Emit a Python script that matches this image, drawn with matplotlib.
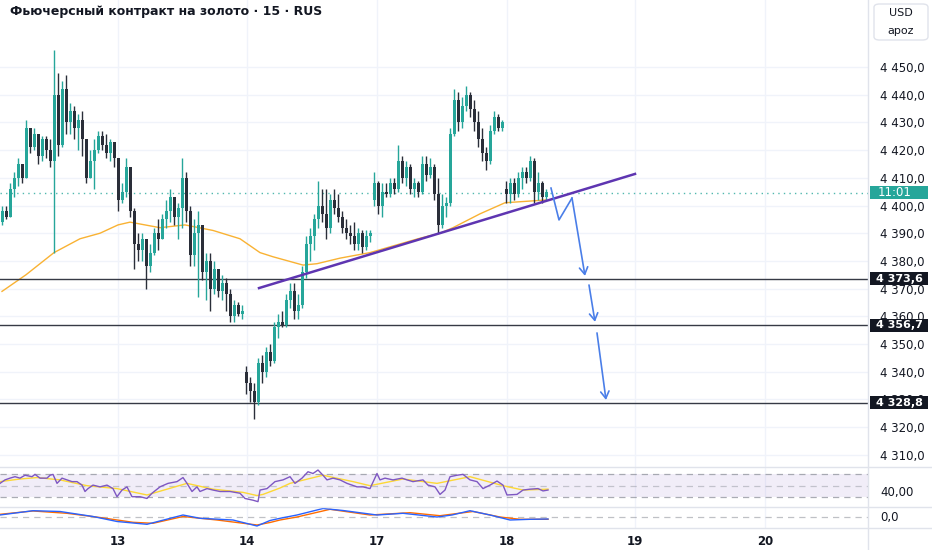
import numpy as np
import matplotlib.pyplot as plt
from matplotlib.lines import Line2D
from matplotlib.patches import FancyBboxPatch, Rectangle

title = 'Фьючерсный контракт на золото · 15 · RUS'
day_labels = ['13', '14', '17', '18', '19', '20']
day_pos = [29, 61.25, 93.75, 126.25, 158.25, 190.75]

# 15-min candles (bar index = time order)
opens = [4394, 4398, 4396, 4406, 4410, 4415, 4410, 4428, 4421, 4426, 4418, 4424, 4420, 4416, 4440, 4422,
         4442, 4430, 4434, 4428, 4431, 4424, 4410, 4416, 4420, 4425, 4422, 4419, 4423, 4417, 4402, 4405,
         4414, 4398, 4386, 4384, 4388, 4378, 4383, 4390, 4388, 4395, 4398, 4403, 4396, 4399, 4410, 4398,
         4382, 4390, 4393, 4376, 4380, 4370, 4377, 4369, 4372, 4368, 4360, 4364, 4361,
         4340, 4336, 4333, 4329, 4343, 4340, 4347, 4344, 4356, 4358, 4357, 4366, 4369, 4362, 4364, 4376,
         4386, 4389, 4395, 4400, 4397, 4392, 4402, 4399, 4396, 4392, 4390, 4389, 4386, 4390, 4385, 4389,
         4402, 4408, 4400, 4405, 4404, 4408, 4406, 4416, 4410, 4414, 4406, 4408, 4405, 4415, 4411, 4414,
         4404, 4393, 4400, 4401, 4426, 4438, 4430, 4436, 4440, 4435, 4430, 4424, 4419, 4416, 4427, 4432,
         4428, 4406, 4404, 4408, 4404, 4410, 4412, 4410, 4416, 4405, 4408, 4403]
highs = [4400, 4400, 4408, 4412, 4417, 4415, 4431, 4428, 4428, 4426, 4425, 4425, 4424, 4456, 4448, 4445,
         4447, 4437, 4436, 4433, 4434, 4424, 4420, 4424, 4427, 4427, 4426, 4424, 4423, 4417, 4408, 4417,
         4414, 4399, 4390, 4390, 4388, 4386, 4392, 4395, 4397, 4402, 4406, 4403, 4401, 4417, 4412, 4400,
         4395, 4398, 4393, 4383, 4383, 4380, 4377, 4375, 4374, 4370, 4366, 4365, 4364,
         4342, 4338, 4336, 4345, 4346, 4349, 4350, 4358, 4361, 4362, 4368, 4372, 4372, 4368, 4378, 4389,
         4392, 4397, 4409, 4406, 4406, 4404, 4406, 4404, 4398, 4395, 4393, 4394, 4392, 4391, 4391, 4391,
         4412, 4409, 4408, 4408, 4410, 4410, 4422, 4418, 4416, 4415, 4410, 4409, 4418, 4418, 4417, 4415,
         4410, 4404, 4403, 4428, 4442, 4441, 4439, 4443, 4441, 4438, 4434, 4428, 4421, 4429, 4434, 4433,
         4431, 4409, 4410, 4410, 4412, 4414, 4414, 4418, 4417, 4412, 4409, 4406]
lows = [4393, 4395, 4396, 4403, 4407, 4408, 4410, 4419, 4420, 4415, 4416, 4417, 4414, 4383, 4418, 4421,
        4426, 4426, 4424, 4420, 4418, 4408, 4410, 4406, 4419, 4420, 4417, 4416, 4414, 4398, 4401, 4403,
        4396, 4377, 4380, 4380, 4370, 4376, 4382, 4384, 4388, 4392, 4394, 4393, 4388, 4392, 4394, 4378,
        4378, 4367, 4373, 4366, 4362, 4368, 4367, 4366, 4362, 4358, 4358, 4360, 4359,
        4332, 4329, 4323, 4328, 4336, 4338, 4342, 4343, 4352, 4356, 4356, 4363, 4359, 4359, 4363, 4374,
        4380, 4384, 4392, 4394, 4388, 4390, 4397, 4394, 4390, 4388, 4386, 4384, 4384, 4383, 4384, 4387,
        4400, 4397, 4396, 4403, 4403, 4404, 4405, 4408, 4407, 4404, 4403, 4403, 4404, 4409, 4410, 4402,
        4390, 4392, 4396, 4400, 4425, 4427, 4428, 4434, 4432, 4427, 4421, 4416, 4413, 4415, 4426, 4427,
        4427, 4401, 4401, 4402, 4403, 4406, 4408, 4409, 4401, 4402, 4401, 4402]
closes = [4398, 4396, 4406, 4410, 4415, 4410, 4428, 4421, 4426, 4418, 4424, 4420, 4416, 4440, 4422, 4442,
          4430, 4434, 4428, 4431, 4424, 4410, 4416, 4420, 4425, 4422, 4419, 4423, 4417, 4402, 4405, 4414,
          4398, 4386, 4384, 4388, 4378, 4383, 4390, 4388, 4395, 4398, 4403, 4396, 4399, 4410, 4398, 4382,
          4390, 4393, 4376, 4380, 4370, 4377, 4369, 4372, 4368, 4360, 4364, 4361, 4362,
          4336, 4333, 4329, 4343, 4340, 4347, 4344, 4356, 4358, 4357, 4366, 4369, 4362, 4364, 4376, 4386,
          4389, 4395, 4400, 4397, 4392, 4402, 4399, 4396, 4392, 4390, 4389, 4386, 4390, 4385, 4389, 4390,
          4408, 4400, 4405, 4404, 4408, 4406, 4416, 4410, 4414, 4406, 4408, 4405, 4415, 4411, 4414, 4404,
          4393, 4400, 4401, 4426, 4438, 4430, 4436, 4440, 4435, 4430, 4424, 4419, 4416, 4427, 4432, 4428,
          4430, 4404, 4408, 4404, 4410, 4412, 4410, 4416, 4405, 4408, 4403, 4405]

# moving average (orange)
ma_x = [0, 6, 13, 19.5, 24.5, 29, 32, 39.5, 45.75, 52.75, 59.5, 64.5, 67.75, 75.25, 78.75, 84.5,
        92, 104, 109.5, 112.75, 119.5, 125.75, 136]
ma_y = [4369, 4375, 4383, 4388, 4390, 4393, 4394, 4392, 4393, 4391, 4388, 4383, 4381.5, 4378.5, 4379,
        4381, 4383, 4388, 4390, 4392, 4397, 4401, 4402]

levels = [4373.6, 4356.7, 4328.8]
level_labels = ['4 373,6', '4 356,7', '4 328,8']
last_price = 4404.7
countdown = '11:01'

# trend line and projected path
trend_x = [64.25, 158.25]
trend_y = [4370.2, 4411.4]
path_x = [137.25, 139.25, 142.5, 145.75]
path_y = [4406.3, 4394.8, 4402.7, 4374.6]
arrow2_x = [146.75, 148.25]
arrow2_y = [4371.3, 4358.0]
arrow3_x = [148.75, 151]
arrow3_y = [4354.0, 4329.8]

# RSI
rsi_x = [-0.5, 0.75, 2, 3.25, 4.5, 5.75, 7.5, 8.25, 9.5, 11.25, 12, 12.75, 13.75, 15, 16.25, 17.5,
         18.75, 20, 20.75, 21.5, 22.75, 24.5, 26.25, 27.75, 28.75, 30, 31.25, 32.5, 34.5, 36.25, 37.5,
         39.5, 41.5, 43.75, 45.25, 46.25, 47.5, 48.75, 49.5, 51.25, 52.75, 54.5, 57, 59.5, 60.75, 62.75,
         64, 64.5, 66.25, 68.25, 70.25, 72, 73.25, 75, 76.5, 77.75, 79, 80.25, 81.25, 82.75, 84.5, 86.25,
         88.75, 90.25, 92, 93.75, 94.5, 95.75, 97.75, 100, 101.25, 102.75, 105.25, 106.5, 108.25, 109.5,
         110.75, 112, 113.75, 115.25, 117, 118.75, 120.25, 122, 123.75, 125.25, 126.25, 128.75, 130.25,
         132, 134, 135.25, 136.5]
rsi_y = [54, 60, 63, 65.5, 63, 68, 65.5, 69.5, 63, 63, 68, 69.5, 54, 63, 60, 57,
         57, 51, 40, 45, 51, 48, 51, 45, 31, 42.5, 48, 31, 31, 28, 37,
         48, 54, 57, 64, 54, 40, 48, 40, 45, 42.5, 40, 40, 37, 28, 25,
         22.5, 42.5, 45, 57, 60, 65.5, 54, 63, 74, 71, 77, 68, 60, 63, 60, 54,
         48, 48, 45, 71, 60, 63, 60, 63, 60, 57, 60, 51, 48, 35,
         42.5, 65.5, 68, 69.5, 60, 57, 45, 51, 58, 51, 34, 35, 42.5,
         44, 45, 41, 42.5]
rsi_ma_x = [-0.5, 4.5, 8.75, 14.5, 21.25, 28.75, 36.25, 46.25, 52.75, 60.25, 63.75, 65.25, 69.5, 72,
            80.25, 87.75, 92, 100.25, 108.75, 117, 125.25, 130.25, 136.5]
rsi_ma_y = [57, 61.5, 64, 60, 50, 45, 34, 54, 44, 38.5, 33, 35, 46, 54, 68, 57, 50, 61.5, 54, 65.5,
            50, 42.5, 44]

# MACD
macd_x = [-0.5, 7.75, 14.5, 22.75, 28.75, 36.25, 45.25, 49.5, 57.75, 63.75, 67, 69.5, 73.75, 80.25,
          85.25, 93.75, 100.25, 108.75, 112.5, 117, 122, 127, 132, 136.5]
macd_y = [1.5, 5.8, 5, 0, -5, -7.8, 1.5, -1.8, -3.5, -9.5, -4, -1.8, 1.5, 8, 6, 1.5, 3.2, -0.5, 1.5,
          5.8, 1.5, -3.5, -2.8, -2.5]
sig_x = [-0.5, 7.75, 16.25, 24.5, 32.75, 37.75, 45.25, 53.75, 63.75, 67, 69.5, 73.75, 82, 92, 102,
         109.5, 117.75, 124.5, 129.5, 136.5]
sig_y = [2.2, 5.5, 3.2, -1, -5.8, -6.8, 0, -3.5, -8.5, -6, -3.5, -0.5, 7.2, 1.5, 3.8, 0.8, 5, -0.5,
         -2.8, -2.8]

TEAL = '#26a69a'
DARK = '#2a2e39'
GRID = '#f0f3fa'
TXT = '#131722'
W, H = 932, 550

fig = plt.figure(figsize=(W / 100, H / 100), dpi=100)
ax = fig.add_axes([0, (H - 467) / H, 868 / W, 467 / H])
ax_rsi = fig.add_axes([0, (H - 507) / H, 868 / W, 40 / H])
ax_macd = fig.add_axes([0, (H - 528) / H, 868 / W, 21 / H])

for a in (ax, ax_rsi, ax_macd):
    a.set_xlim(-0.5, 216.5)
    for s in a.spines.values():
        s.set_visible(False)
    a.yaxis.tick_right()
    a.tick_params(axis='y', length=0, labelsize=8.5, labelcolor=TXT, pad=9)
    a.tick_params(axis='x', length=0)
    for d in day_pos:
        a.axvline(d, color=GRID, lw=1, zorder=0)

# main price panel
ax.set_ylim(4305.6, 4474.2)
ticks = list(range(4310, 4451, 10))
ax.set_yticks(ticks)
ax.set_yticklabels([f'{t // 1000} {t % 1000:03d},0' for t in ticks])
for t in ticks:
    ax.axhline(t, color=GRID, lw=1, zorder=0)
ax.set_xticks([])

o = np.array(opens)
c = np.array(closes)
x = np.arange(len(c))
col = np.where(c >= o, TEAL, DARK)
ax.vlines(x, lows, highs, colors=col, lw=1, zorder=3)
body = np.maximum(np.abs(c - o), 0.4)
ax.bar(x, body, bottom=np.minimum(o, c), width=0.75, color=col, zorder=3)

ax.plot(ma_x, ma_y, color='#f9b233', lw=1, zorder=2)
ax.axhline(last_price, color=TEAL, lw=1, ls=(0, (1, 3)), zorder=2, alpha=0.8)
for lv in levels:
    ax.axhline(lv, color='#363a45', lw=1, zorder=2)
ax.plot(trend_x, trend_y, color='#5e35b1', lw=1.8, zorder=4)

BLUE = '#4a7ee8'
ax.plot(path_x[:-1], path_y[:-1], color=BLUE, lw=1.2, zorder=4)
for xs, ys in ((path_x[-2:], path_y[-2:]), (arrow2_x, arrow2_y), (arrow3_x, arrow3_y)):
    ax.annotate('', xy=(xs[1], ys[1]), xytext=(xs[0], ys[0]),
                arrowprops=dict(arrowstyle='->,head_length=0.5,head_width=0.3', color=BLUE, lw=1.2,
                                shrinkA=0, shrinkB=0), zorder=4)

# price labels on the right scale
tr = ax.get_yaxis_transform()
px = 1 / 2.771  # price units per pixel
for lv, lab in zip(levels, level_labels):
    ax.add_patch(Rectangle((1 + 2 / 868, lv - 6.5 * px), 58 / 868, 13 * px, transform=tr,
                           fc='#131722', ec='none', zorder=6, clip_on=False))
    ax.text(1 + 8 / 868, lv, lab, transform=tr, ha='left', va='center', color='white',
            fontsize=8, fontweight='bold', zorder=7, clip_on=False)
ax.add_patch(Rectangle((1 + 2 / 868, last_price - 6.5 * px), 58 / 868, 13 * px, transform=tr,
                       fc=TEAL, ec='none', zorder=6, clip_on=False))
ax.text(1 + 10 / 868, last_price, countdown, transform=tr, ha='left', va='center', color='white',
        fontsize=8.5, zorder=7, clip_on=False)

# RSI panel
ax_rsi.set_ylim(13.3, 82.2)
ax_rsi.axhspan(30, 70, color='#7e57c2', alpha=0.1, lw=0)
for lv in (70, 50, 30):
    ax_rsi.axhline(lv, color='#9598a1', lw=0.9, ls=(0, (5, 4)), alpha=0.8 if lv != 50 else 0.5)
ax_rsi.plot(rsi_ma_x, rsi_ma_y, color='#fdd835', lw=1)
ax_rsi.plot(rsi_x, rsi_y, color='#7e57c2', lw=1)
ax_rsi.set_yticks([40])
ax_rsi.set_yticklabels(['40,00'])
ax_rsi.set_xticks([])

# MACD panel
ax_macd.set_ylim(-11.5, 9.5)
ax_macd.axhline(0, color='#9598a1', lw=0.9, ls=(0, (5, 4)), alpha=0.6)
ax_macd.plot(sig_x, sig_y, color='#ff6d00', lw=1)
ax_macd.plot(macd_x, macd_y, color='#2962ff', lw=1)
ax_macd.set_yticks([0])
ax_macd.set_yticklabels(['0,0'])
ax_macd.set_xticks(day_pos)
ax_macd.set_xticklabels(day_labels, fontsize=8.5, color=TXT, fontweight='bold')
ax_macd.tick_params(axis='x', pad=5)

# separators and frame
for yp in (467, 507, 528):
    fig.add_artist(Line2D([0, 1], [1 - yp / H] * 2, color='#e0e3eb', lw=1))
fig.add_artist(Line2D([868 / W] * 2, [0, 1], color='#e0e3eb', lw=1))

box = FancyBboxPatch((874 / W, 1 - 40 / H), 54 / W, 36 / H, boxstyle='round,pad=0,rounding_size=0.006',
                     transform=fig.transFigure, fc='white', ec='#e0e3eb', lw=1)
fig.add_artist(box)
fig.text(901 / W, 1 - 13 / H, 'USD', ha='center', va='center', fontsize=8, color=TXT)
fig.text(901 / W, 1 - 31 / H, 'apoz', ha='center', va='center', fontsize=8, color=TXT)

fig.text(10 / W, 1 - 12 / H, title, ha='left', va='center', fontsize=9, fontweight='bold', color=TXT)

fig.savefig('out.png', dpi=100)
